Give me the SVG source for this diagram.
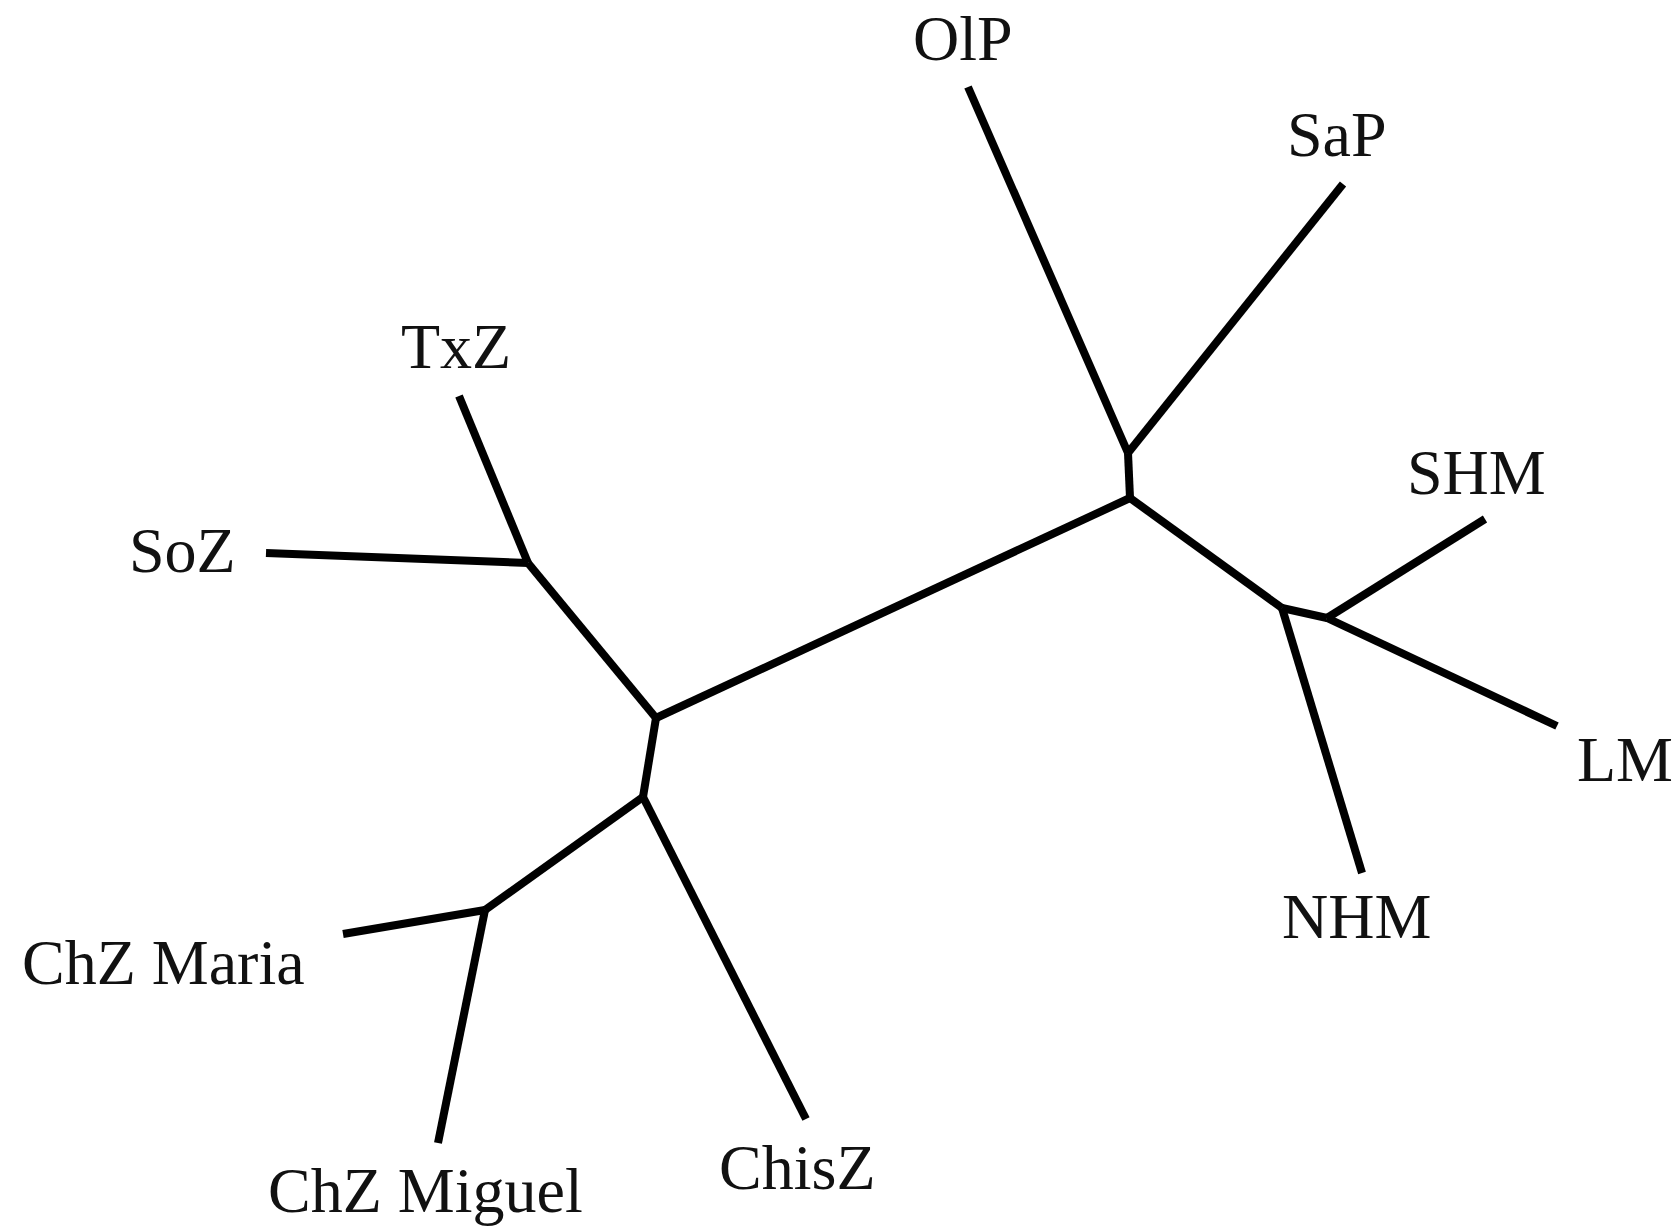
<svg xmlns="http://www.w3.org/2000/svg" width="1679" height="1226" viewBox="0 0 1679 1226">
<style>
.edge{stroke:#000;stroke-width:8;fill:none;stroke-linecap:butt;stroke-linejoin:round}
.lbl{font-family:"Liberation Serif","Times New Roman",serif;font-size:64px;fill:#111}
</style>
<rect width="1679" height="1226" fill="#fff"/>
<g id="connectors">
<path class="edge" d="M656,718 L1130,498"/>
<path class="edge" d="M656,718 L528,563"/>
<path class="edge" d="M656,718 L643,797"/>
<path class="edge" d="M528,563 L459,396"/>
<path class="edge" d="M528,563 L266,553"/>
<path class="edge" d="M643,797 L485,910"/>
<path class="edge" d="M643,797 L806,1119"/>
<path class="edge" d="M485,910 L343,934"/>
<path class="edge" d="M485,910 L438,1143"/>
<path class="edge" d="M1130,498 L1128,453"/>
<path class="edge" d="M1128,453 L968,87"/>
<path class="edge" d="M1128,453 L1343,184"/>
<path class="edge" d="M1130,498 L1282,608"/>
<path class="edge" d="M1282,608 L1362,873"/>
<path class="edge" d="M1282,608 L1327,618"/>
<path class="edge" d="M1327,618 L1485,519"/>
<path class="edge" d="M1327,618 L1557,726"/>
</g>
<g id="OlP"><text class="lbl" x="913" y="60">OlP</text></g>
<g id="SaP"><text class="lbl" x="1287" y="156">SaP</text></g>
<g id="SHM"><text class="lbl" x="1407" y="494">SHM</text></g>
<g id="LM"><text class="lbl" x="1577" y="781">LM</text></g>
<g id="NHM"><text class="lbl" x="1282" y="938">NHM</text></g>
<g id="TxZ"><text class="lbl" x="401" y="368">TxZ</text></g>
<g id="SoZ"><text class="lbl" x="129" y="572">SoZ</text></g>
<g id="ChZ_Maria"><text class="lbl" x="22" y="984">ChZ Maria</text></g>
<g id="ChZ_Miguel"><text class="lbl" x="268" y="1212">ChZ Miguel</text></g>
<g id="ChisZ"><text class="lbl" x="719" y="1189">ChisZ</text></g>
</svg>
